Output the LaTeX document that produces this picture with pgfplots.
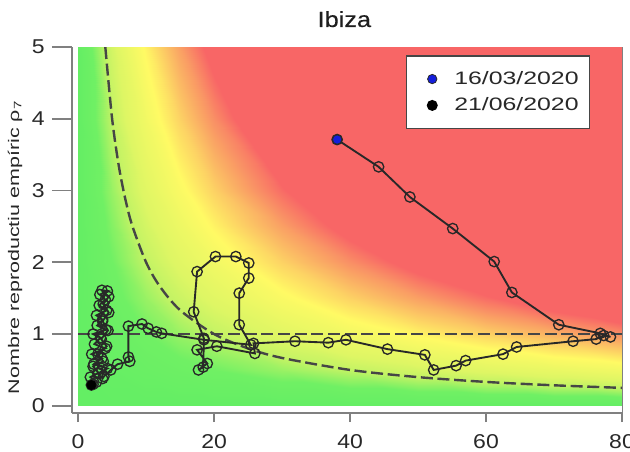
\documentclass[border=0pt]{standalone}
\usepackage{pgfplots}
\pgfplotsset{compat=1.18}
\usepackage{fontspec}
\setmainfont{Liberation Sans}
\newfontfamily\titlefont[FakeBold=0.25]{Liberation Sans}
\definecolor{txt}{RGB}{40,40,40}
\definecolor{axgray}{RGB}{128,128,128}
\definecolor{traj}{RGB}{40,40,40}
\definecolor{dashgray}{RGB}{70,70,70}
\definecolor{startblue}{RGB}{20,30,220}
\pgfplotsset{
  common/.style={scale only axis, width=412.5pt, height=274.5pt,
    xmin=-0.9, xmax=80, ymin=-0.1, ymax=5,
    axis line style={-, draw=axgray, line width=1.5pt},
    tick align=outside,
    ticklabel style={font=\fontsize{15}{18}\selectfont, text=txt},
    every tick/.style={draw=axgray, line width=1.3pt}},
  myleg/.style={legend image code/.code={\draw[##1] plot coordinates {(0cm,0cm)}; \path (-0.45cm,0) (0.49cm,0);}},
}
\begin{document}
\begin{tikzpicture}
\begin{axis}[common,
  axis x line*=bottom, axis y line*=left,
  xtick=\empty, ytick={0,1,2,3,4,5},
  major tick length=15pt,
  yticklabel={\scalebox{1.15}[1]{\pgfmathprintnumber[assume math mode=true]{\tick}}},
  yticklabel style={xshift=-2pt},
  colormap={risk}{rgb255(0)=(100,238,100) rgb255(10)=(112,240,100) rgb255(20)=(195,243,100) rgb255(28)=(222,246,100) rgb255(38)=(238,248,100) rgb255(48)=(255,250,100) rgb255(72)=(250,170,100) rgb255(92)=(248,102,102) rgb255(400)=(248,102,102)},
  point meta min=0, point meta max=400,
  legend style={at={(0.942,0.978)}, anchor=north east, draw=dashgray, line width=1.2pt, fill=white,
    font=\fontsize{13.5}{16}\selectfont, text=txt, inner xsep=6pt, inner ysep=9.75pt, row sep=4.5pt},
  legend cell align=left,
]
% background risk map (value = x * y)
\addplot[surf, shader=interp, mesh/cols=11, point meta=explicit, forget plot] table[meta=z] {
x y z
0 0 0
5 0 0
10 0 0
15 0 0
20 0 0
30 0 0
40 0 0
50 0 0
60 0 0
70 0 0
80 0 0
0 0.5 0
5 0.5 2.5
10 0.5 5
15 0.5 7.5
20 0.5 10
30 0.5 15
40 0.5 20
50 0.5 25
60 0.5 30
70 0.5 35
80 0.5 40
0 1 0
5 1 5
10 1 10
15 1 15
20 1 20
30 1 30
40 1 40
50 1 50
60 1 60
70 1 70
80 1 80
0 1.5 0
5 1.5 7.5
10 1.5 15
15 1.5 22.5
20 1.5 30
30 1.5 45
40 1.5 60
50 1.5 75
60 1.5 90
70 1.5 105
80 1.5 120
0 2 0
5 2 10
10 2 20
15 2 30
20 2 40
30 2 60
40 2 80
50 2 100
60 2 120
70 2 140
80 2 160
0 2.5 0
5 2.5 12.5
10 2.5 25
15 2.5 37.5
20 2.5 50
30 2.5 75
40 2.5 100
50 2.5 125
60 2.5 150
70 2.5 175
80 2.5 200
0 3 0
5 3 15
10 3 30
15 3 45
20 3 60
30 3 90
40 3 120
50 3 150
60 3 180
70 3 210
80 3 240
0 4 0
5 4 20
10 4 40
15 4 60
20 4 80
30 4 120
40 4 160
50 4 200
60 4 240
70 4 280
80 4 320
0 5 0
5 5 25
10 5 50
15 5 75
20 5 100
30 5 150
40 5 200
50 5 250
60 5 300
70 5 350
80 5 400
};
% dashed reference curves
\addplot[forget plot, dashgray, line width=1.8pt, dash pattern=on 9pt off 3.5pt] coordinates {(0,1) (80,1)};
\addplot[forget plot, dashgray, line width=1.8pt, dash pattern=on 9pt off 3.5pt, smooth] coordinates {
(4,5) (5,4) (6,3.333) (7,2.857) (8,2.5) (10,2) (12,1.667) (15,1.333) (20,1) (25,0.8) (30,0.667) (40,0.5) (50,0.4) (60,0.333) (70,0.286) (80,0.25)};
% trajectory
\addplot[forget plot, traj, line width=1.4pt, mark=o, mark size=3.9pt, mark options={draw=traj, line width=1pt, solid, fill=black, fill opacity=0.08}] coordinates {
(38.1,3.71) (44.2,3.33) (48.8,2.91) (55.1,2.47) (61.2,2.01) (63.8,1.58) (70.7,1.13)
(76.8,1.01) (78.3,0.96) (77.3,0.98) (76.2,0.93) (72.8,0.90)
(64.5,0.82) (62.5,0.72) (57.0,0.63) (55.6,0.56) (52.3,0.50) (51.0,0.71) (45.5,0.79)
(39.4,0.92) (36.8,0.88) (31.9,0.90) (25.8,0.87) (26.0,0.73)
(20.4,0.83) (17.5,0.78) (19.0,0.59) (17.7,0.50) (18.4,0.54) (18.5,0.94) (17.0,1.31)
(17.5,1.87) (20.2,2.08) (23.2,2.08) (25.1,1.99) (25.1,1.78) (23.7,1.57) (23.7,1.13)
(25.4,0.85) (18.5,0.92) (12.3,1.01) (11.5,1.03) (10.3,1.08) (9.4,1.14) (7.4,1.11)
(7.4,0.68) (7.6,0.62) (5.8,0.58) (4.8,0.50) (3.8,0.41)
(3.6,0.38) (2.9,0.45) (4.3,0.52) (2.3,0.58) (3.5,0.66) (2.0,0.72) (4.0,0.80) (2.4,0.86)
(3.3,0.95) (2.2,1.00) (4.1,1.06) (2.8,1.12) (3.6,1.20) (2.7,1.26) (4.2,1.33) (3.1,1.40)
(4.0,1.48) (3.2,1.55) (4.3,1.60) (3.5,1.61) (4.5,1.52) (3.7,1.42) (4.5,1.30) (3.6,1.18)
(4.4,1.05) (3.4,0.93) (4.2,0.83) (2.9,0.72) (3.7,0.62) (2.2,0.55) (3.0,0.46) (1.8,0.40)
(2.7,0.33) (2.2,0.30) (1.95,0.29)};
% start and end points
\addplot[only marks, mark=*, mark size=3.5pt, mark options={fill=startblue, draw=traj, line width=0.6pt}, myleg] coordinates {(38.1,3.71)};
\addlegendentry{\scalebox{1.38}[1]{16/03/2020}}
\addplot[only marks, mark=*, mark size=3.5pt, mark options={fill=black, draw=black}, myleg] coordinates {(1.95,0.29)};
\addlegendentry{\scalebox{1.38}[1]{21/06/2020}}
\coordinate (SW) at (rel axis cs:0,0);
\coordinate (NE) at (rel axis cs:1,1);
\coordinate (TT) at (rel axis cs:0.5,1);
\coordinate (WW) at (rel axis cs:0,0.5);
\coordinate (RB) at (rel axis cs:1,0);
\end{axis}
% x ticks with their own length
\begin{axis}[common,
  axis x line*=bottom, axis y line=none,
  xtick={0,20,40,60,80},
  major tick length=6.75pt,
  xticklabel={\scalebox{1.15}[1]{\pgfmathprintnumber[assume math mode=true]{\tick}}},
  xticklabel style={yshift=-6pt},
]
\end{axis}
\draw[axgray, line width=0.6pt] (RB) -- (NE);
\node[anchor=base, font=\fontsize{16.5}{19}\titlefont, text={rgb,255:red,30;green,30;blue,30}] at ([xshift=-2pt, yshift=15pt]TT) {\scalebox{1.15}[1]{Ibiza}};
\node[rotate=90, anchor=center, font=\fontsize{11.5}{13}\selectfont, text=txt] at ([xshift=-42.75pt, yshift=-13pt]WW) {\scalebox{1.4}[1]{Nombre reproductiu empíric ρ\textsubscript{7}}};
\pgfresetboundingbox
\path ([shift={(-54pt,-29.25pt)}]SW) rectangle ([shift={(6pt,35.25pt)}]NE);
\end{tikzpicture}
\end{document}
